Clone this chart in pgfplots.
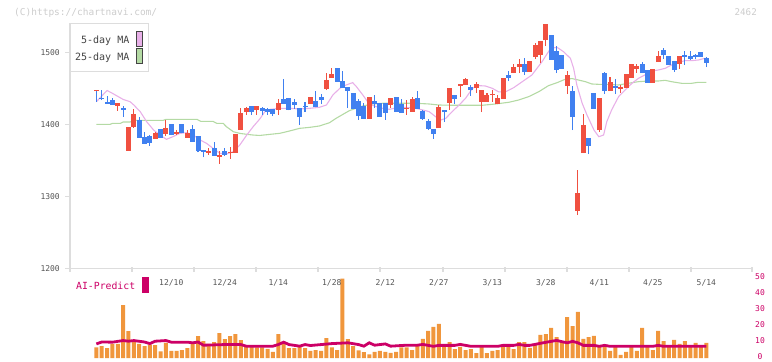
\documentclass[border=0pt]{standalone}
\usepackage{fontspec}
\setmainfont{DejaVu Sans Mono}
\usepackage{pgfplots}
\pgfplotsset{compat=1.18}
\usepackage{pgfplotstable}

\definecolor{cred}{HTML}{F05040}
\definecolor{cblue}{HTML}{4080F0}
\definecolor{mapink}{HTML}{E8B0E8}
\definecolor{magreen}{HTML}{B4DAA4}
\definecolor{axisgray}{HTML}{DDDDDD}
\definecolor{ticktext}{HTML}{555555}
\definecolor{legtext}{HTML}{444444}
\definecolor{vorange}{HTML}{F0963C}
\definecolor{aicrimson}{HTML}{CC0066}
\definecolor{hdr}{HTML}{CCCCCC}

% up candles (close >= open): x open high low close
\pgfplotstableread{
x o h l c
0 1446.2 1447.6 1446.2 1447.6
4 1426 1429.5 1419 1429.5
6 1363.5 1396 1363.5 1396
7 1396 1421 1395 1414.5
11 1380 1389.5 1380 1388
13 1386.5 1406 1383.5 1395
15 1386.5 1392 1385 1389
17 1381.5 1392 1381.5 1388
21 1360.5 1366.5 1357.5 1363.5
23 1355 1363 1345 1357.5
25 1360.5 1368.5 1352.5 1362
26 1360.5 1387 1360.5 1387
27 1392.5 1422.5 1392.5 1415.5
28 1417.5 1424.5 1413.5 1422.5
30 1420.5 1425.5 1413.5 1425.5
34 1420 1435 1413 1429.5
40 1428 1438 1428 1438
43 1449 1471.5 1447.5 1461.5
44 1464.5 1478 1464.5 1470
51 1407.5 1438 1407.5 1438
55 1427 1436.5 1422.5 1436.5
58 1421.5 1434 1413 1423
59 1417.5 1438 1417.5 1435
64 1395 1427 1395 1424
66 1429.5 1450.5 1420 1450.5
68 1453 1456 1438 1456
69 1454.5 1464.5 1454.5 1463
71 1450.5 1459 1444 1456
72 1431 1447.5 1417 1447.5
73 1431 1443.5 1431 1440.5
74 1440.5 1447.5 1431 1442
75 1428 1440.5 1428 1436.5
76 1435 1464 1435 1464
78 1471 1483.5 1471 1479.5
79 1479.5 1490.5 1471 1483.5
81 1472.5 1488 1472.5 1488
82 1493.5 1513 1490.5 1510
83 1496 1515.5 1485 1515.5
84 1517 1539 1508.5 1539
88 1453 1474 1442 1468.5
90 1279.5 1336.5 1274 1304.5
91 1360 1414.5 1360 1399
94 1392 1436.5 1389.5 1436.5
96 1446 1465.5 1446 1458.5
98 1449 1454.5 1443.5 1452
99 1450.5 1470 1450.5 1470
100 1464.5 1483.5 1464.5 1483.5
101 1477 1483.5 1471 1481
104 1457.5 1477 1457.5 1477
105 1486.5 1502 1486.5 1495
109 1483.5 1495 1477 1495
}\upcandles

% down candles (close < open)
\pgfplotstableread{
x o h l c
0 1447 1447 1431 1447
1 1436.8 1447 1433.5 1435.4
2 1431 1439.5 1428.5 1428.5
3 1433.5 1436 1427 1427
5 1422 1425.5 1410.5 1420.5
8 1406 1410.5 1381.5 1381.5
9 1382.5 1389.5 1373 1373
10 1383.5 1385 1370 1374.5
12 1393.5 1393.5 1381.5 1381.5
14 1400.5 1400.5 1385 1385
16 1400.5 1400.5 1387.5 1387.5
18 1393.5 1399 1376 1376
19 1383.5 1383.5 1361 1363.5
20 1364.5 1364.5 1354 1362
22 1367 1375.5 1356.5 1356.5
24 1363 1366.5 1356 1358
29 1425.5 1425.5 1413.5 1417
31 1423 1423.5 1413 1418.5
32 1421.5 1422 1413 1417
33 1421.5 1421.5 1411.5 1414.5
35 1435 1463 1428 1428
36 1436.5 1436.5 1419.5 1420
37 1431 1435 1421.5 1427
38 1422.5 1422.5 1399 1410
39 1425.5 1431 1417 1424
41 1432.5 1446.5 1424 1424
42 1438 1442 1428 1434
45 1478 1478 1459 1459
46 1460 1474 1450.5 1450.5
47 1452 1452 1422.5 1446.5
48 1443.5 1443.5 1421.5 1421.5
49 1432.5 1435 1406 1411.5
50 1425.5 1429.5 1407.5 1407.5
52 1432.5 1440.5 1422.5 1428
53 1429.5 1429.5 1410 1410
54 1429.5 1429.5 1406 1415.5
56 1438 1438 1417 1417
57 1428.5 1435 1416 1416
60 1436.5 1446.5 1421.5 1421.5
61 1418.5 1420 1406 1407.5
62 1404.5 1407.5 1392 1393.5
63 1393.5 1393.5 1380 1386.5
65 1420 1420 1403 1417
67 1440.5 1440.5 1428 1435
70 1452 1454.5 1439.5 1447.5
77 1468.5 1474 1460 1464.5
80 1483.5 1492 1468.5 1472.5
85 1524 1524 1489.5 1489.5
86 1502 1508.5 1471 1475.5
87 1496 1496 1477 1477
89 1446 1453 1392 1410
92 1381 1381 1358.5 1370
93 1443.5 1443.5 1421.5 1421.5
95 1471 1472.5 1442 1446
97 1453 1463 1442 1450.5
102 1483.5 1486.5 1471 1471
103 1475.5 1475.5 1457.5 1457.5
106 1503 1506 1490.5 1496
107 1495 1495 1482.5 1482.5
108 1488 1488 1472.5 1475.5
110 1496 1502 1482.5 1493.5
111 1495 1502 1489.5 1491
112 1496 1497.5 1490.5 1493.5
113 1500.5 1500.5 1493.5 1493.5
114 1492 1493.5 1479.5 1485
}\downcandles

% volume (x10k shares)
\pgfplotstableread{
x v
0 6.7
1 7.4
2 6.1
3 8.8
4 8.8
5 33
6 16.8
7 10.5
8 8.8
9 7.4
10 8.4
11 8.0
12 4.2
13 9.5
14 4.4
15 4.4
16 5.0
17 6.1
18 8.8
19 13.7
20 10.5
21 8.8
22 9.9
23 15.5
24 11.8
25 13.7
26 14.9
27 11.1
28 7.4
29 7.4
30 6.7
31 6.7
32 5.7
33 3.8
34 14.9
35 8.8
36 6.1
37 6.1
38 7.4
39 6.1
40 4.4
41 5.0
42 4.4
43 12.4
44 6.7
45 5.0
46 49.6
47 11.8
48 7.4
49 4.8
50 3.6
51 2.3
52 3.8
53 4.4
54 3.8
55 3.2
56 3.8
57 6.7
58 6.7
59 5.0
60 7.4
61 11.9
62 16.9
63 19.4
64 21.3
65 7.5
66 10
67 5.6
68 6.9
69 5
70 5.6
71 3.1
72 6.9
73 3.1
74 4.4
75 5
76 7.5
77 7.5
78 5.6
79 10
80 10
81 6.3
82 8.1
83 14.4
84 15
85 18.8
86 13.1
87 10.6
88 25.6
89 20
90 28.8
91 11.9
92 13.1
93 13.8
94 7.5
95 8.1
96 4.4
97 7.5
98 1.9
99 3.8
100 7.5
101 4.4
102 18.8
103 7.5
104 5
105 16.9
106 10.6
107 8.1
108 11.3
109 8.8
110 10.6
111 7.5
112 9.4
113 7.5
114 9.4
}\vol

\newcommand{\tickfont}{\fontsize{8bp}{9bp}\selectfont}

\pgfplotsset{
  candlebar/.style={draw=none, mark=none, forget plot,
    error bars/.cd, y dir=plus, y explicit, error mark=none,
    error bar style={draw=#1}},
}

\begin{document}
\begin{tikzpicture}[x=1bp,y=1bp]
\useasboundingbox (0,0) rectangle (772,361);

% header
\node[anchor=west, inner sep=0pt, text=hdr, font=\fontsize{9.5bp}{11bp}\selectfont] at (14,348.5) {(C)https://chartnavi.com/};
\node[anchor=east, inner sep=0pt, text=hdr, font=\fontsize{9.2bp}{11bp}\selectfont] at (757,348.5) {2462};

% ---------------- price panel ----------------
\begin{axis}[
  at={(70bp,92.7bp)}, anchor=south west,
  scale only axis, width=682bp, height=244.8bp,
  xmin=-4.93, xmax=122.54, ymin=1200, ymax=1540,
  clip=false,
  axis x line*=bottom, axis y line*=left,
  axis line style={draw=axisgray, line width=1.2bp},
  xtick={-4.93,6.66,18.24,29.83,41.42,53.01,64.79,76.37,87.96,99.55,111.14,122.54},
  xticklabels={},
  ytick={1200,1300,1400,1500},
  tick align=outside, major tick length=5bp,
  tick style={draw=axisgray, line width=1.2bp},
  xtick style={yshift=1.5bp},
  /pgf/number format/1000 sep={},
  /pgf/number format/assume math mode=true,
  yticklabel style={font=\tickfont, text=ticktext, inner sep=0pt, anchor=east, xshift=-5bp},
]
% moving averages
\addplot[magreen, line width=1.1bp, mark=none] coordinates {
(0,1400)(2.6,1400)(3,1401.3)(4.5,1401.3)(5,1403.2)(6.3,1403.2)(7,1405.5)(12.5,1405.5)
(13,1406.9)(18.8,1406.9)(19.5,1404.1)(21.8,1404.1)(22.5,1401.3)(23.7,1401.3)(24.3,1396.7)
(25.6,1389.7)(26.8,1387.4)(28.1,1386.1)(29.3,1385.1)(30.5,1384.5)(34.3,1387.5)(36.1,1390.7)
(38,1394.4)(39.9,1395.8)(41.7,1397.7)(43.6,1402.3)(44.8,1408.3)(46.1,1413.9)(47.3,1419)
(48.5,1422.2)(49.8,1425.5)(51.6,1428.2)(53.5,1429.2)(59.7,1429.2)(62.2,1428.2)(64,1426.8)
(67.1,1426.4)(72.1,1426.4)(74.6,1428.2)(77.1,1430.6)(78.9,1433.7)(80.8,1438.4)(82.7,1445.3)
(84.5,1453.7)(86.1,1457.8)(87.6,1462.5)(88.9,1463.5)(90.1,1461.5)(91.4,1459.2)(92.6,1456)
(93.9,1455.5)(95.7,1455.5)(97.6,1454.6)(99.4,1456.9)(101.3,1459.2)(103.1,1460.1)(105,1460.1)
(106.3,1461.1)(107.5,1459.2)(109.4,1456.9)(111.2,1456.9)(112.5,1458.3)(114,1458.3)
};
\addplot[mapink, line width=1.1bp, mark=none] coordinates {
(0,1431.4)(2,1447)(3,1443)(5,1434.6)(6.3,1431.4)(7,1426.8)(8.2,1417.5)(9.4,1403.6)
(10.7,1392)(11.9,1385)(13.1,1379.1)(14.3,1382.8)(15.6,1387.4)(16.9,1388.4)(18.1,1385)
(19.4,1378.2)(20.6,1373.5)(21.8,1366.6)(23.1,1359.6)(24.3,1358.7)(25.6,1362)(26.8,1371.2)
(28.1,1385)(29.3,1396.7)(30.5,1407)(31.5,1417.6)(32.5,1420.8)(34.3,1422.2)(36.1,1422.2)
(38,1421.3)(39.9,1422.2)(41.7,1423.6)(43,1426.8)(44.2,1440.7)(45.5,1450)(46.7,1454.6)
(47.9,1457.9)(48.6,1452.3)(49.8,1440.7)(51,1428.2)(52.3,1424.5)(53.5,1422.2)(54.8,1420.8)
(56,1422.7)(57.2,1423.6)(58.5,1423.1)(59.7,1422.2)(61,1419.9)(62.2,1417.6)(63.4,1410.6)
(64.4,1406)(65.3,1408.3)(66.5,1417.6)(67.8,1426.8)(69,1436.1)(70.3,1450)(71.5,1453.7)
(72.7,1453.2)(74,1450)(75.2,1445)(76.5,1445.3)(78,1450.9)(79.6,1459.2)(81.4,1468.5)
(83.3,1487)(84.9,1505.5)(86.1,1506.9)(87.3,1500.9)(88.6,1491.6)(89.2,1477.7)(89.8,1454.6)
(90.8,1429.1)(91.7,1412.9)(93,1392.1)(93.9,1382.8)(94.8,1385.1)(95.4,1403.7)(96.3,1419.9)
(97.6,1438.4)(98.8,1447.6)(100.1,1456.9)(101.3,1463.8)(102.5,1468.5)(103.8,1474)(105,1475.4)
(106.3,1477.7)(107.5,1482.4)(108.7,1485.6)(110,1488.4)(111.2,1488.4)(112.5,1489.3)
(113.7,1491.6)(114,1491.6)
};
% candles: wicks
\addplot[candlebar={cred, line width=1.1bp}]
  table[x=x, y=l, y error expr=\thisrow{h}-\thisrow{l}] {\upcandles};
\addplot[candlebar={cblue, line width=1.1bp}]
  table[x=x, y=l, y error expr=\thisrow{h}-\thisrow{l}] {\downcandles};
% candles: bodies
\addplot[candlebar={cred, line width=5bp}]
  table[x=x, y=o, y error expr=\thisrow{c}-\thisrow{o}] {\upcandles};
\addplot[candlebar={cblue, line width=5bp}]
  table[x=x, y=c, y error expr=\thisrow{o}-\thisrow{c}] {\downcandles};
\end{axis}

% ---------------- volume panel ----------------
\begin{axis}[
  at={(70bp,3bp)}, anchor=south west,
  scale only axis, width=682bp, height=80bp,
  xmin=-4.93, xmax=122.54, ymin=0, ymax=50,
  clip=false,
  hide x axis,
  axis y line*=right,
  y axis line style={draw=none},
  ytick={0,10,20,30,40,50},
  major tick length=0pt,
  /pgf/number format/assume math mode=true,
  yticklabel style={font=\tickfont, text=aicrimson, inner sep=0pt, anchor=center, xshift=8bp, yshift=1bp},
]
\addplot[ybar, bar width=4bp, bar shift=0pt, fill=vorange, draw=none] table[x=x, y=v] {\vol};
\addplot[aicrimson, line width=2.8bp, mark=none] coordinates {
(0,8.8)(1,10)(3,9.9)(5,10.9)(6,10.5)(7,10.9)(9,10)(10,9)(11,10.5)(13,10.9)(14,9.9)(17,9.9)
(18,9.5)(19,10)(20,8)(24,8.4)(27,8.4)(28,7.4)(33,7.4)(34,8.4)(35,9.9)(36,8.4)(38,7.4)
(39,8.4)(40,7.8)(42,8.4)(44,9)(47,9.5)(49,8.4)(50,7.4)(51,9.5)(52,8)(54,8.8)(55,7.4)
(58,8)(60,8)(61,8.5)(63,7.3)(64,7.9)(67,7.9)(68,8.5)(69,7.9)(70,7.3)(75,7.3)(76,7.9)
(78,7.9)(79,8.5)(80,7.9)(81,7.9)(82,8.5)(83,9.2)(84,9.8)(85,10.4)(86,11)(87,10.2)
(88,9.5)(89,10.4)(90,9.5)(91,7.9)(93,7.9)(94,7.3)(95,7.9)(96,7.3)(104,7.3)(105,7.9)
(106,7.3)(114,7.3)
};
% date labels (drawn above the volume bars)
\foreach \i/\t in {14/12\slash10,24/12\slash24,34/1\slash14,44/1\slash28,54/2\slash12,64/2\slash27,74/3\slash13,84/3\slash28,94/4\slash11,104/4\slash25,114/5\slash14}{
  \edef\tmp{\noexpand\node[font=\noexpand\tickfont, text=ticktext, inner sep=0pt] at (axis cs:\i,47.2) {\t};}
  \tmp
}
\end{axis}

% AI-Predict label
\node[anchor=west, inner sep=0pt, text=aicrimson, font=\fontsize{9.8bp}{11bp}\selectfont] at (76,75) {AI-Predict};
\fill[aicrimson] (142,68) rectangle (149,84.3);

% legend
\draw[draw=axisgray, fill=white, line width=1bp] (70.3,289.3) rectangle (148.7,337);
\node[anchor=east, inner sep=0pt, text=legtext, font=\fontsize{10bp}{12bp}\selectfont] at (129.5,320) {5-day MA};
\node[anchor=east, inner sep=0pt, text=legtext, font=\fontsize{10bp}{12bp}\selectfont] at (129.5,303.7) {25-day MA};
\draw[draw=legtext, fill=mapink, line width=0.9bp] (136.5,315) rectangle (142.5,330);
\draw[draw=legtext, fill=magreen, line width=0.9bp] (136.5,297.7) rectangle (142.5,312.7);
\end{tikzpicture}
\end{document}
